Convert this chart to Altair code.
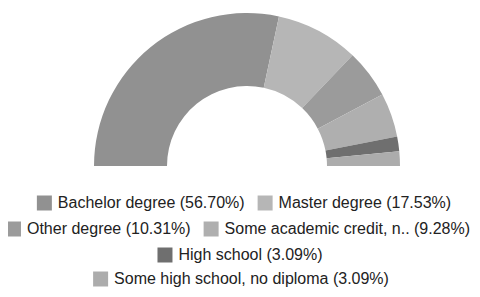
import math
import altair as alt
import pandas as pd

# ---- data ----
categories = ["Bachelor degree", "Master degree", "Other degree",
              "Some academic credit, no degree", "High school",
              "Some high school, no diploma"]
legend_names = ["Bachelor degree", "Master degree", "Other degree",
                "Some academic credit, n..", "High school",
                "Some high school, no diploma"]
values = [56.70, 17.53, 10.31, 9.28, 3.09, 3.09]
colors = ["#919191", "#b6b6b6", "#9b9b9b", "#afafaf", "#6f6f6f", "#acacac"]
legend_rows = [[0, 1], [2, 3], [4], [5]]

# ---- layout ----
W, H = 464, 281
CX, CY = 239, 158
R_OUT, R_IN = 153, 80
FONT = "Liberation Sans"
FS = 16
SQ = 15
GAP_SQ = 6
GAP_ITEM = 13
ROW_Y = [195, 221, 247, 271]
ROW_CENTER = [236, 230, 232, 233]

# Helvetica/Arial advance widths (per 1000 em) for text measurement
AFM = {' ': 278, ',': 278, '.': 278, '(': 333, ')': 333, '%': 889,
       'S': 667, 'O': 778, 'H': 722, 'M': 833, 'B': 667,
       'a': 556, 'c': 500, 'd': 556, 'e': 556, 'g': 556, 'h': 556, 'i': 222,
       'l': 222, 'm': 833, 'n': 556, 'o': 556, 'p': 556, 'r': 333, 's': 500,
       't': 278, 'u': 556, 'k': 500, 'f': 278}


def text_w(s):
    return sum(AFM.get(ch, 556) for ch in s) / 1000 * FS


labels = [f"{n} ({v:.2f}%)" for n, v in zip(legend_names, values)]

arc_df = pd.DataFrame({"cat": categories, "value": values,
                       "idx": list(range(len(categories)))})

leg = []
for r, items in enumerate(legend_rows):
    widths = [SQ + GAP_SQ + text_w(labels[i]) for i in items]
    total = sum(widths) + GAP_ITEM * (len(items) - 1)
    x = ROW_CENTER[r] - total / 2
    for i, w in zip(items, widths):
        leg.append({"cat": categories[i], "label": labels[i],
                    "sx": x + SQ / 2, "tx": x + SQ + GAP_SQ, "y": ROW_Y[r]})
        x += w + GAP_ITEM
leg_df = pd.DataFrame(leg)

color_scale = alt.Scale(domain=categories, range=colors)
px_x = alt.Scale(domain=[0, W], range=[0, W])
px_y = alt.Scale(domain=[0, H], range=[0, H])

arcs = alt.Chart(arc_df).mark_arc(
    innerRadius=R_IN, outerRadius=R_OUT
).encode(
    theta=alt.Theta("value:Q", stack=True,
                    scale=alt.Scale(range=[-math.pi / 2, math.pi / 2])),
    color=alt.Color("cat:N", scale=color_scale, legend=None),
    order=alt.Order("idx:Q"),
    x=alt.value(CX),
    y=alt.value(CY),
)

squares = alt.Chart(leg_df).mark_square(size=SQ * SQ, opacity=1).encode(
    x=alt.X("sx:Q", scale=px_x, axis=None),
    y=alt.Y("y:Q", scale=px_y, axis=None),
    color=alt.Color("cat:N", scale=color_scale, legend=None),
)

texts = alt.Chart(leg_df).mark_text(
    align="left", baseline="middle", font=FONT, fontSize=FS, color="#222222"
).encode(
    x=alt.X("tx:Q", scale=px_x, axis=None),
    y=alt.Y("y:Q", scale=px_y, axis=None),
    text="label:N",
)

chart = alt.layer(arcs, squares, texts).properties(
    width=W, height=H, padding=0, autosize=alt.AutoSizeParams(type="none")
).configure(background="white", view=alt.ViewConfig(strokeWidth=0))

chart.save("out.html", embed_options={"renderer": "svg", "actions": False})
